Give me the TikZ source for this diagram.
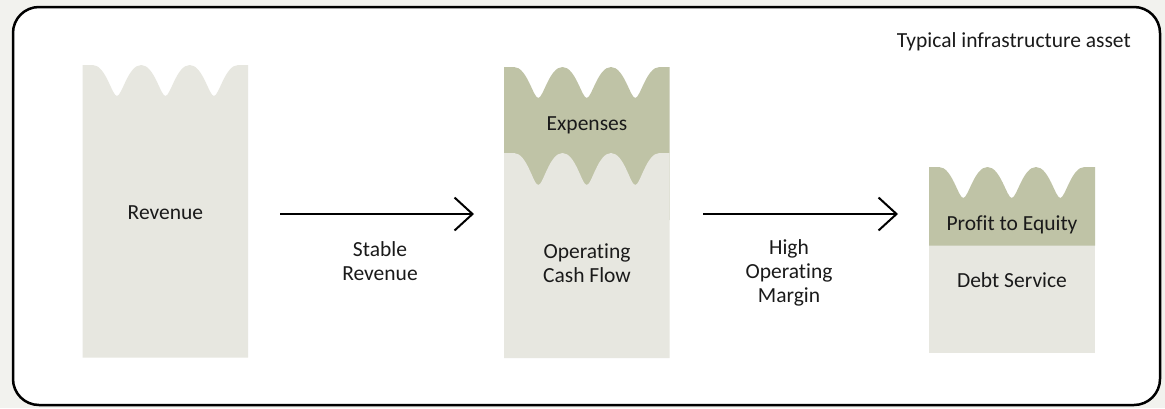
\documentclass[tikz,border=0pt]{standalone}
\usepackage{fontspec}
\setmainfont{Carlito}[Ligatures={NoCommon}]
\usetikzlibrary{arrows.meta}
\definecolor{pagebg}{HTML}{F2F2EE}
\definecolor{colfill}{HTML}{E7E7E0}
\definecolor{colgreen}{HTML}{BFC3A6}
\definecolor{inktext}{HTML}{1A1A1A}

% Three wave periods: #1 = x of first crest, #2 = crest y, #3 = trough y
\newcommand\wavepath[3]{%
  \foreach \k in {0,1,2}{
    .. controls ({#1+48.5*\k+13},#2) and ({#1+48.5*\k+19.25},#3) .. ({#1+48.5*\k+24.25},#3)
    .. controls ({#1+48.5*\k+29.25},#3) and ({#1+48.5*\k+35.5},#2) .. ({#1+48.5*\k+48.5},#2)
  }}

\tikzset{
  lbl/.style={text=inktext, font=\fontsize{21.5}{24}\selectfont, align=center, inner sep=0pt},
  flowarrow/.style={line width=2pt, -{Straight Barb[length=18pt,width=33pt]}},
}

\begin{document}
\begin{tikzpicture}[x=1pt, y=-1pt]
  \useasboundingbox (0,0) rectangle (1165,408);
  \fill[pagebg] (0,0) rectangle (1165,408);
  \draw[line width=2.5pt, fill=white, rounded corners=26pt] (13,7) rectangle (1160,405);

  % Column 1: revenue
  \fill[colfill] (82.7,357.7) -- (82.7,65) -- (92.7,65) \wavepath{92.7}{65}{96}
    -- (248,65) -- (248,357.7) -- cycle;

  % Column 2: expenses over operating cash flow
  \fill[colgreen] (504,220) -- (504,67) -- (514,67) \wavepath{514}{67}{98}
    -- (669.6,67) -- (669.6,220) -- cycle;
  \fill[colfill] (504,358) -- (504,153) -- (514,153) \wavepath{514}{153}{185}
    -- (669.6,153) -- (669.6,358) -- cycle;

  % Column 3: profit to equity over debt service
  \fill[colfill] (929,245) rectangle (1095,352.7);
  \fill[colgreen] (929,245.5) -- (929,167) -- (939,167) \wavepath{939}{167}{198}
    -- (1095,167) -- (1095,245.5) -- cycle;

  % Labels
  \node[lbl] (rev) at (165.4,213) {Revenue};
  \node[lbl] (exp) at (587,125) {Expenses};
  \node[lbl] (ocf) at (587,263) {Operating\\Cash Flow};
  \node[lbl] (pte) at (1012,225) {Profit to Equity};
  \node[lbl] (ds) at (1012,280) {Debt Service};
  \node[lbl] (lab1) at (380,261) {Stable\\Revenue};
  \node[lbl] (lab2) at (789,273) {High\\Operating\\Margin};
  \node[lbl, anchor=base east] (title) at (1131,47) {Typical infrastructure asset};

  % Flow arrows
  \coordinate (a1s) at (280,214);
  \coordinate (a1e) at (474,214);
  \coordinate (a2s) at (703,214);
  \coordinate (a2e) at (898,214);
  \draw[flowarrow] (a1s) -- (a1e);
  \draw[flowarrow] (a2s) -- (a2e);
\end{tikzpicture}
\end{document}
